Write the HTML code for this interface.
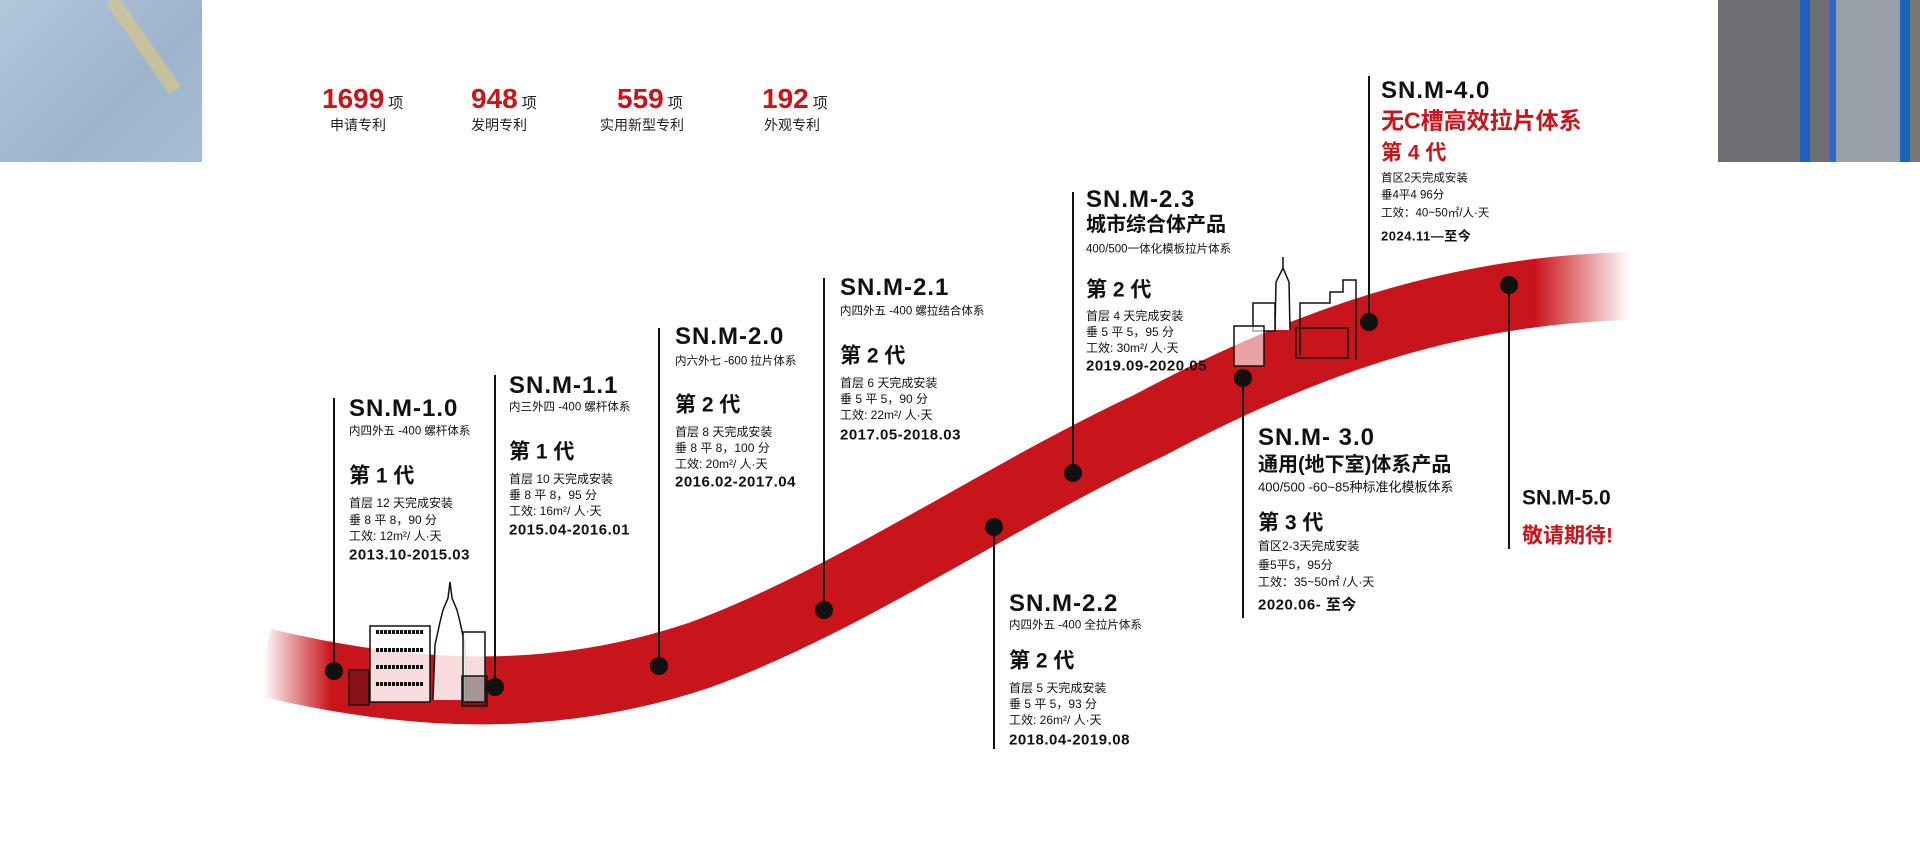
<!DOCTYPE html>
<html><head><meta charset="utf-8">
<style>
*{margin:0;padding:0;box-sizing:border-box}
body{width:1920px;height:852px;background:#fff;position:relative;overflow:hidden;font-family:"Liberation Sans","Noto Sans CJK SC",sans-serif;color:#111}
.a{position:absolute;white-space:nowrap;line-height:1}
.t{font-size:24px;font-weight:bold;letter-spacing:1px;transform:translateY(-50%)}
.s{font-size:11.5px;transform:translateY(-50%)}
.g{font-size:21px;font-weight:bold;transform:translateY(-50%)}
.l{font-size:12px;transform:translateY(-50%)}
.d{font-size:15px;font-weight:bold;letter-spacing:.5px;transform:translateY(-50%)}
.r{color:#c8141b}
.n{font-size:28px;font-weight:bold;color:#c8141b;transform:translateY(-50%)}
.n span{font-size:15px;color:#222;font-weight:normal;margin-left:4px}
.p{font-size:14px;transform:translateY(-50%);color:#222}
</style></head><body>
<!-- photos -->
<div class="a" style="left:0;top:0;width:202px;height:162px;background:linear-gradient(135deg,#b3c7dc,#9db4cc 60%,#a8bdd3)"></div>
<div class="a" style="left:105px;top:0;width:14px;height:110px;background:#d8c48a;transform:rotate(-35deg);transform-origin:top;opacity:.7"></div>
<div class="a" style="left:1718px;top:0;width:202px;height:162px;background:#6d6f72"></div>
<div class="a" style="left:1800px;top:0;width:120px;height:162px;background:linear-gradient(90deg,#1f5fc0 0 10px,transparent 10px 30px,#2a6ad0 30px 36px,#9aa0a8 36px 100px,#1f5fc0 100px 110px,#777 110px)"></div>

<svg class="a" style="left:0;top:0" width="1920" height="852">
<defs>
<linearGradient id="rg" x1="263" x2="1630" y1="0" y2="0" gradientUnits="userSpaceOnUse">
<stop offset="0" stop-color="#c8141b" stop-opacity="0"/>
<stop offset="0.05" stop-color="#c8141b"/>
<stop offset="0.93" stop-color="#c8141b"/>
<stop offset="1" stop-color="#c8141b" stop-opacity="0"/>
</linearGradient>
</defs>
<path d="M 263 662 C 420 700, 560 702, 700 655 C 850 600, 1000 495, 1150 425 C 1300 345, 1450 290, 1630 286" fill="none" stroke="url(#rg)" stroke-width="68"/>
<g stroke="#111" fill="none" stroke-width="1.5">
<rect x="370" y="626" width="60" height="76" fill="#fff" fill-opacity=".85"/>
<line x1="376" y1="632" x2="424" y2="632" stroke-width="4" stroke-dasharray="3 1"/>
<line x1="376" y1="650" x2="424" y2="650" stroke-width="4" stroke-dasharray="3 1"/>
<line x1="376" y1="667" x2="424" y2="667" stroke-width="4" stroke-dasharray="3 1"/>
<line x1="376" y1="684" x2="424" y2="684" stroke-width="4" stroke-dasharray="3 1"/>
<rect x="349" y="670" width="20" height="35" fill="#111" fill-opacity=".35"/>
<path d="M 433 700 L 435 645 L 440 622 L 443 610 L 448 598 L 450 582 L 452 598 L 457 610 L 460 622 L 465 645 L 466 700" fill="#fff" fill-opacity=".85"/>
<rect x="463" y="632" width="22" height="70" fill="#fff" fill-opacity=".85"/>
<rect x="462" y="676" width="25" height="30" fill="#111" fill-opacity=".35"/>
<path d="M 1275 330 L 1276 282 L 1283 268 L 1289 282 L 1290 330" fill="#fff"/>
<line x1="1283" y1="257" x2="1283" y2="268"/>
<rect x="1253" y="303" width="22" height="28" fill="#fff"/>
<rect x="1234" y="326" width="30" height="40" fill="#fff" fill-opacity=".6"/>
<path d="M 1300 355 L 1300 303 L 1330 303 L 1330 292 L 1343 292 L 1343 280 L 1356 280 L 1356 360"/>
<rect x="1296" y="328" width="52" height="30"/>
</g>
<g stroke="#111" stroke-width="2">
<line x1="334" y1="398" x2="334" y2="671"/>
<line x1="495" y1="375" x2="495" y2="687"/>
<line x1="659" y1="328" x2="659" y2="666"/>
<line x1="824" y1="278" x2="824" y2="610"/>
<line x1="994" y1="527" x2="994" y2="749"/>
<line x1="1073" y1="192" x2="1073" y2="473"/>
<line x1="1243" y1="378" x2="1243" y2="618"/>
<line x1="1369" y1="76" x2="1369" y2="322"/>
<line x1="1509" y1="285" x2="1509" y2="549"/>
</g>
<g fill="#111">
<circle cx="334" cy="671" r="9"/><circle cx="495" cy="687" r="9"/><circle cx="659" cy="666" r="9"/>
<circle cx="824" cy="610" r="9"/><circle cx="994" cy="527" r="9"/><circle cx="1073" cy="473" r="9"/>
<circle cx="1243" cy="378" r="9"/><circle cx="1369" cy="322" r="9"/><circle cx="1509" cy="285" r="9"/>
</g>
</svg>

<div class="a n" style="left:322px;top:99px">1699<span>项</span></div>
<div class="a p" style="left:330px;top:125px">申请专利</div>
<div class="a n" style="left:471px;top:99px">948<span>项</span></div>
<div class="a p" style="left:471px;top:125px">发明专利</div>
<div class="a n" style="left:617px;top:99px">559<span>项</span></div>
<div class="a p" style="left:600px;top:125px">实用新型专利</div>
<div class="a n" style="left:762px;top:99px">192<span>项</span></div>
<div class="a p" style="left:764px;top:125px">外观专利</div>

<div class="a t" style="left:349px;top:409px">SN.M-1.0</div>
<div class="a s" style="left:349px;top:432px">内四外五 -400 螺杆体系</div>
<div class="a g" style="left:349px;top:476px">第 1 代</div>
<div class="a l" style="left:349px;top:503px">首层 12 天完成安装</div>
<div class="a l" style="left:349px;top:520px">垂 8 平 8，90 分</div>
<div class="a l" style="left:349px;top:536px">工效: 12m²/ 人·天</div>
<div class="a d" style="left:349px;top:555px">2013.10-2015.03</div>

<div class="a t" style="left:509px;top:386px">SN.M-1.1</div>
<div class="a s" style="left:509px;top:408px">内三外四 -400 螺杆体系</div>
<div class="a g" style="left:509px;top:452px">第 1 代</div>
<div class="a l" style="left:509px;top:479px">首层 10 天完成安装</div>
<div class="a l" style="left:509px;top:495px">垂 8 平 8，95 分</div>
<div class="a l" style="left:509px;top:511px">工效: 16m²/ 人·天</div>
<div class="a d" style="left:509px;top:530px">2015.04-2016.01</div>

<div class="a t" style="left:675px;top:337px">SN.M-2.0</div>
<div class="a s" style="left:675px;top:362px">内六外七 -600 拉片体系</div>
<div class="a g" style="left:675px;top:405px">第 2 代</div>
<div class="a l" style="left:675px;top:432px">首层 8 天完成安装</div>
<div class="a l" style="left:675px;top:448px">垂 8 平 8，100 分</div>
<div class="a l" style="left:675px;top:464px">工效: 20m²/ 人·天</div>
<div class="a d" style="left:675px;top:482px">2016.02-2017.04</div>

<div class="a t" style="left:840px;top:288px">SN.M-2.1</div>
<div class="a s" style="left:840px;top:312px">内四外五 -400 螺拉结合体系</div>
<div class="a g" style="left:840px;top:356px">第 2 代</div>
<div class="a l" style="left:840px;top:383px">首层 6 天完成安装</div>
<div class="a l" style="left:840px;top:399px">垂 5 平 5，90 分</div>
<div class="a l" style="left:840px;top:415px">工效: 22m²/ 人·天</div>
<div class="a d" style="left:840px;top:435px">2017.05-2018.03</div>

<div class="a t" style="left:1009px;top:604px">SN.M-2.2</div>
<div class="a s" style="left:1009px;top:626px">内四外五 -400 全拉片体系</div>
<div class="a g" style="left:1009px;top:661px">第 2 代</div>
<div class="a l" style="left:1009px;top:688px">首层 5 天完成安装</div>
<div class="a l" style="left:1009px;top:704px">垂 5 平 5，93 分</div>
<div class="a l" style="left:1009px;top:720px">工效: 26m²/ 人·天</div>
<div class="a d" style="left:1009px;top:740px">2018.04-2019.08</div>

<div class="a t" style="left:1086px;top:200px">SN.M-2.3</div>
<div class="a g" style="left:1086px;top:225px;font-size:20px">城市综合体产品</div>
<div class="a s" style="left:1086px;top:250px">400/500一体化模板拉片体系</div>
<div class="a g" style="left:1086px;top:290px">第 2 代</div>
<div class="a l" style="left:1086px;top:316px">首层 4 天完成安装</div>
<div class="a l" style="left:1086px;top:332px">垂 5 平 5，95 分</div>
<div class="a l" style="left:1086px;top:348px">工效: 30m²/ 人·天</div>
<div class="a d" style="left:1086px;top:366px">2019.09-2020.05</div>

<div class="a t" style="left:1258px;top:438px">SN.M- 3.0</div>
<div class="a g" style="left:1258px;top:465px;font-size:20px">通用(地下室)体系产品</div>
<div class="a s" style="left:1258px;top:487px;font-size:13px">400/500 -60~85种标准化模板体系</div>
<div class="a g" style="left:1258px;top:523px">第 3 代</div>
<div class="a l" style="left:1258px;top:546px">首区2-3天完成安装</div>
<div class="a l" style="left:1258px;top:565px">垂5平5，95分</div>
<div class="a l" style="left:1258px;top:582px">工效：35~50㎡ /人·天</div>
<div class="a d" style="left:1258px;top:605px">2020.06- 至今</div>

<div class="a t" style="left:1381px;top:91px">SN.M-4.0</div>
<div class="a g r" style="left:1381px;top:121px;font-size:23px">无C槽高效拉片体系</div>
<div class="a g r" style="left:1381px;top:153px">第 4 代</div>
<div class="a l" style="left:1381px;top:179px;font-size:11.5px">首区2天完成安装</div>
<div class="a l" style="left:1381px;top:196px;font-size:11.5px">垂4平4  96分</div>
<div class="a l" style="left:1381px;top:214px;font-size:11.5px">工效：40~50㎡/人·天</div>
<div class="a d" style="left:1381px;top:236px;font-size:13px">2024.11—至今</div>

<div class="a t" style="left:1522px;top:498px;font-size:21px;letter-spacing:0">SN.M-5.0</div>
<div class="a g r" style="left:1522px;top:536px;font-size:21px">敬请期待!</div>
</body></html>
